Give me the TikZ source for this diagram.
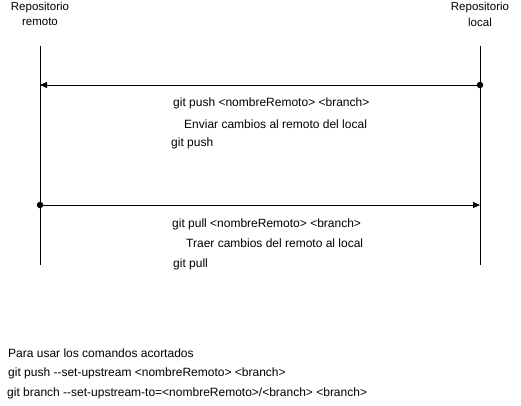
\documentclass[tikz,border=0pt]{standalone}
\usepackage{fontspec}
\setmainfont{Liberation Sans}
\usetikzlibrary{arrows.meta}
\begin{document}
\begin{tikzpicture}[x=1pt,y=-1pt,
  lbl/.style={font=\fontsize{12}{14}\selectfont, inner sep=0pt, anchor=west},
  hdr/.style={font=\fontsize{11.5}{14}\selectfont, inner sep=0pt, align=center},
  life/.style={line width=0.8pt},
  msg/.style={line width=0.8pt, -{Triangle[length=7pt,width=6pt]}},
  dot/.style={circle, fill=black, inner sep=0pt, minimum size=6.5pt}]
\useasboundingbox (0,0) rectangle (521,406);
% headers
\node[hdr] (hr1) at (40,8) {Repositorio};
\node[hdr] (hr2) at (40,22) {remoto};
\node[hdr] (hl1) at (480,8) {Repositorio};
\node[hdr] (hl2) at (480,22) {local};
% lifelines
\coordinate (rtop) at (40,46);
\coordinate (rbot) at (40,265);
\coordinate (ltop) at (480,46);
\coordinate (lbot) at (480,265);
\draw[life] (rtop) -- (rbot);
\draw[life] (ltop) -- (lbot);
% push
\node[dot] (pushsrc) at (480,85) {};
\coordinate (pushdst) at (40,85);
\draw[msg] (pushsrc.center) -- (pushdst);
\node[lbl] (p1) at (173,103) {git push <nombreRemoto> <branch>};
\node[lbl] (p2) at (184,124) {Enviar cambios al remoto del local};
\node[lbl] (p3) at (171,143) {git push};
% pull
\node[dot] (pullsrc) at (40,205) {};
\coordinate (pulldst) at (480,205);
\draw[msg] (pullsrc.center) -- (pulldst);
\node[lbl] (q1) at (172,224) {git pull <nombreRemoto> <branch>};
\node[lbl] (q2) at (186,243) {Traer cambios del remoto al local};
\node[lbl] (q3) at (173,264) {git pull};
% bottom
\node[lbl] (b1) at (8,353) {Para usar los comandos acortados};
\node[lbl] (b2) at (8,373) {git push -{}-set-upstream <nombreRemoto> <branch>};
\node[lbl] (b3) at (7,393) {git branch -{}-set-upstream-to=<nombreRemoto>/<branch> <branch>};
\end{tikzpicture}
\end{document}
